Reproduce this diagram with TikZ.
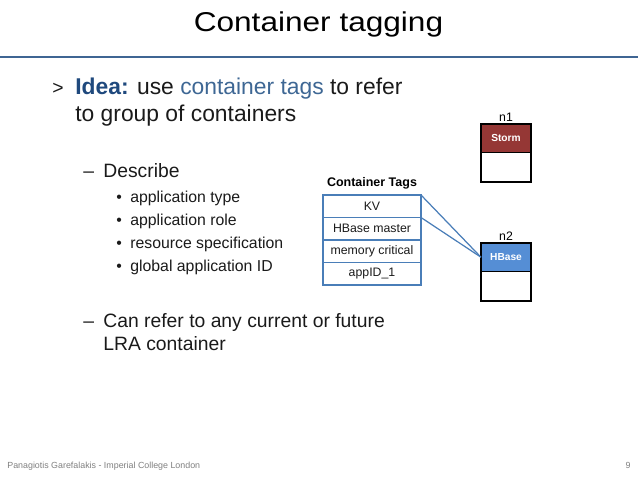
\documentclass[tikz,border=0pt]{standalone}
\usepackage{fontspec}
\setmainfont{Liberation Sans}
\usetikzlibrary{positioning}
\definecolor{RuleBlue}{HTML}{3F6593}
\definecolor{IdeaBlue}{HTML}{1F497D}
\definecolor{TagsBlue}{HTML}{3E6794}
\definecolor{TagBlue}{HTML}{4A7EB8}
\definecolor{StormRed}{HTML}{953735}
\definecolor{HBaseBlue}{HTML}{558ED5}
\definecolor{TextGray}{HTML}{1A1A1A}
\definecolor{FootGray}{HTML}{808080}

\begin{document}
\begin{tikzpicture}[x=0.02cm,y=-0.02cm,
  body/.style={anchor=base west,inner sep=0pt,text=TextGray,font=\fontsize{13pt}{16pt}\selectfont},
  sub/.style={anchor=base west,inner sep=0pt,text=TextGray,font=\fontsize{11pt}{13pt}\selectfont},
  subsub/.style={anchor=base west,inner sep=0pt,text=TextGray,font=\fontsize{9pt}{11pt}\selectfont},
  tagrow/.style={draw=TagBlue,line width=0.9pt,minimum width=1.96cm,minimum height=0.45cm,
    inner sep=0pt,outer sep=0pt,text=TextGray,font=\fontsize{7pt}{8pt}\selectfont},
  nodehead/.style={draw=black,line width=0.8pt,minimum width=1cm,minimum height=0.57cm,
    inner sep=0pt,outer sep=0pt,text=white,font=\bfseries\fontsize{5.8pt}{7pt}\selectfont},
  nodebody/.style={draw=black,line width=0.8pt,fill=white,minimum width=1cm,minimum height=0.59cm,
    inner sep=0pt,outer sep=0pt},
  nodelabel/.style={inner sep=1pt,font=\fontsize{7pt}{8pt}\selectfont},
  link/.style={draw=TagBlue,line width=0.7pt}]
  \useasboundingbox (0,0) rectangle (638,479);
  % title and rule
  \node[anchor=base,inner sep=0pt,xscale=1.16,transform shape,font=\fontsize{15.5pt}{18pt}\selectfont] (title) at (318.5,32) {Container tagging};
  \draw[RuleBlue,line width=1.6pt] (0,57) -- (638,57);
  % main text
  \node[sub] (arrow) at (52,95) {>};
  \node[body] (idea) at (75,95) {\textbf{\textcolor{IdeaBlue}{Idea:}} use \textcolor{TagsBlue}{container tags} to refer};
  \node[body] (idea2) at (75,122) {to group of containers};
  \node[sub] (d1) at (83,178) {--};
  \node[sub] (describe) at (103,178) {Describe};
  \foreach \y/\txt [count=\i] in {203/application type,226/application role,249/resource specification,272/global application ID}{
    \node[subsub] (dot\i) at (116,\y) {\textbullet};
    \node[subsub] (item\i) at (130,\y) {\txt};
  }
  \node[sub] (d2) at (83,327) {--};
  \node[sub] (refer) at (103,327) {Can refer to any current or future};
  \node[sub] (refer2) at (103,350) {LRA container};
  % container tags table
  \node[tagrow,anchor=north west] (t1) at (323,195) {KV};
  \node[tagrow,below=0pt of t1] (t2) {HBase master};
  \node[tagrow,below=0pt of t2] (t3) {memory critical};
  \node[tagrow,below=0pt of t3] (t4) {appID\_1};
  \node[above=3pt of t1,inner sep=0pt,font=\bfseries\fontsize{7.1pt}{8pt}\selectfont] (tagtitle) {Container Tags};
  % cluster nodes
  \node[nodehead,fill=StormRed,anchor=north west] (h1) at (481,124) {Storm};
  \node[nodebody,below=0pt of h1] (b1) {};
  \node[nodelabel,above=0pt of h1] (n1) {n1};
  \node[nodehead,fill=HBaseBlue,anchor=north west] (h2) at (481,243) {HBase};
  \node[nodebody,below=0pt of h2] (b2) {};
  \node[nodelabel,above=0pt of h2] (n2) {n2};
  % tag links
  \draw[link] (t1.north east) -- (h2.west);
  \draw[link] (t1.south east) -- (h2.west);
  % footer
  \node[anchor=base west,inner sep=0pt,text=FootGray,font=\fontsize{5.05pt}{6pt}\selectfont] (foot) at (7,468) {Panagiotis Garefalakis - Imperial College London};
  \node[anchor=base east,inner sep=0pt,text=FootGray,font=\fontsize{5.05pt}{6pt}\selectfont] (page) at (631,468) {9};
\end{tikzpicture}
\end{document}
